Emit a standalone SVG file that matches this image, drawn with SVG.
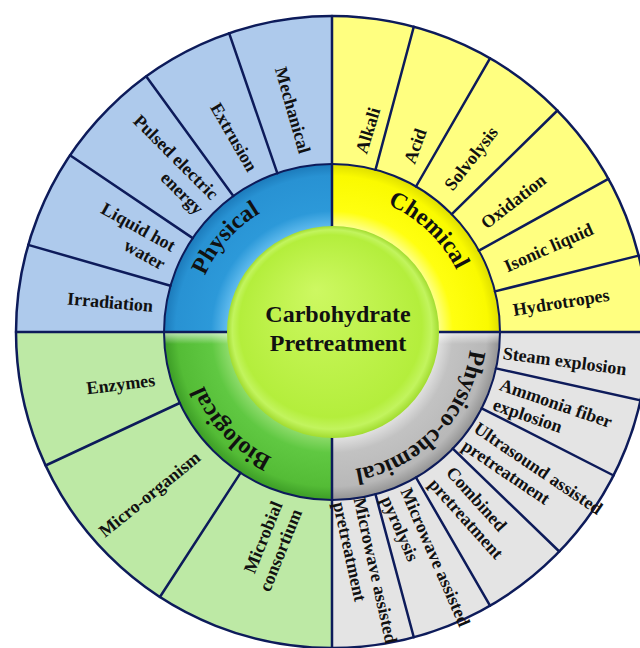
<svg xmlns="http://www.w3.org/2000/svg" width="640" height="648" viewBox="0 0 640 648">
  <defs>
    <style>
      .lbl { font-family: "Liberation Serif", "Times New Roman", serif; font-weight: bold; font-size: 18px; fill: #111; }
      .end { text-anchor: end; }
      .start { text-anchor: start; }
      .ring { font-family: "Liberation Serif", "Times New Roman", serif; font-weight: bold; font-size: 24px; fill: #111; }
      .core { font-family: "Liberation Serif", "Times New Roman", serif; font-weight: bold; font-size: 24px; fill: #111; text-anchor: middle; }
      .div { stroke: #0d1b5a; stroke-width: 2.5; fill: none; stroke-linecap: round; }
    </style>

    <!-- clockwise circle used as baseline for the category names -->
    <path id="arcText" d="M 471 332 A 139 139 0 1 1 193 332 A 139 139 0 1 1 471 332"/>

    <radialGradient id="gBlue" gradientUnits="userSpaceOnUse" cx="332" cy="332" r="168">
      <stop offset="0.62" stop-color="#62bcee"/>
      <stop offset="0.72" stop-color="#2c99d9"/>
      <stop offset="0.93" stop-color="#2892d3"/>
      <stop offset="1" stop-color="#1c7aba"/>
    </radialGradient>
    <radialGradient id="gYellow" gradientUnits="userSpaceOnUse" cx="332" cy="332" r="168">
      <stop offset="0.62" stop-color="#fdff9a"/>
      <stop offset="0.72" stop-color="#ffff10"/>
      <stop offset="0.93" stop-color="#fafa00"/>
      <stop offset="1" stop-color="#dede00"/>
    </radialGradient>
    <radialGradient id="gGreen" gradientUnits="userSpaceOnUse" cx="332" cy="332" r="168">
      <stop offset="0.62" stop-color="#8fdc6c"/>
      <stop offset="0.72" stop-color="#60c842"/>
      <stop offset="0.92" stop-color="#54bc36"/>
      <stop offset="1" stop-color="#3c9c26"/>
    </radialGradient>
    <radialGradient id="gGray" gradientUnits="userSpaceOnUse" cx="332" cy="332" r="168">
      <stop offset="0.62" stop-color="#e4e4e4"/>
      <stop offset="0.72" stop-color="#c2c2c2"/>
      <stop offset="0.92" stop-color="#b8b8b8"/>
      <stop offset="1" stop-color="#929292"/>
    </radialGradient>
    <radialGradient id="gCore" cx="0.5" cy="0.5" r="0.5" fx="0.42" fy="0.3">
      <stop offset="0" stop-color="#cdf862"/>
      <stop offset="0.86" stop-color="#b4ee3c"/>
      <stop offset="0.94" stop-color="#c2f45e"/>
      <stop offset="1" stop-color="#a2dc30"/>
    </radialGradient>
    <linearGradient id="gBevel" gradientUnits="userSpaceOnUse" x1="0" y1="333" x2="0" y2="344">
      <stop offset="0" stop-color="#ffffff" stop-opacity="0.6"/>
      <stop offset="1" stop-color="#ffffff" stop-opacity="0"/>
    </linearGradient>
    <clipPath id="lowerDisc">
      <path d="M 164 332 A 168 168 0 0 0 500 332 Z"/>
    </clipPath>
  </defs>

  <rect width="640" height="648" fill="#ffffff"/>

  <!-- outer ring: method bands -->
  <g id="outer-ring">
    <path d="M332 332 L16 332 A316 316 0 0 1 332 16 Z" fill="#aecaec"/>
    <path d="M332 332 L332 16 A316 316 0 0 1 648 332 Z" fill="#ffff80"/>
    <path d="M332 332 L648 332 A316 316 0 0 1 332 648 Z" fill="#e4e4e4"/>
    <path d="M332 332 L332 648 A316 316 0 0 1 16 332 Z" fill="#bde9a5"/>
  </g>

  <!-- middle ring: category bands -->
  <g id="category-ring">
    <path d="M332 332 L164 332 A168 168 0 0 1 332 164 Z" fill="url(#gBlue)"/>
    <path d="M332 332 L332 164 A168 168 0 0 1 500 332 Z" fill="url(#gYellow)"/>
    <path d="M332 332 L500 332 A168 168 0 0 1 332 500 Z" fill="url(#gGray)"/>
    <path d="M332 332 L332 500 A168 168 0 0 1 164 332 Z" fill="url(#gGreen)"/>
    <rect x="164" y="333" width="336" height="11" fill="url(#gBevel)" clip-path="url(#lowerDisc)"/>
  </g>

  <!-- dividers and outlines -->
  <g id="connectors" class="div">
    <circle cx="332" cy="332" r="316"/>
    <circle cx="332" cy="332" r="168" stroke-width="2"/>
    <line x1="16" y1="332" x2="648" y2="332"/>
    <line x1="332" y1="16" x2="332" y2="648"/>
    <!-- physical -->
    <line x1="170.5" y1="285.7" x2="28.2" y2="244.9"/>
    <line x1="192.7" y1="238.1" x2="70.0" y2="155.3"/>
    <line x1="233.3" y1="196.1" x2="146.3" y2="76.4"/>
    <line x1="277.3" y1="173.2" x2="229.1" y2="33.2"/>
    <!-- chemical -->
    <line x1="375.5" y1="169.7" x2="413.8" y2="26.8"/>
    <line x1="416.0" y1="186.5" x2="490.0" y2="58.3"/>
    <line x1="451.8" y1="214.2" x2="557.4" y2="110.5"/>
    <line x1="478.9" y1="250.6" x2="608.4" y2="178.8"/>
    <line x1="495.0" y1="291.4" x2="638.6" y2="255.6"/>
    <!-- physico-chemical -->
    <line x1="496.0" y1="368.4" x2="640.5" y2="400.4"/>
    <line x1="481.7" y1="408.3" x2="613.6" y2="475.5"/>
    <line x1="452.8" y1="448.7" x2="559.3" y2="551.5"/>
    <line x1="416.0" y1="477.5" x2="490.0" y2="605.7"/>
    <line x1="375.5" y1="494.3" x2="413.8" y2="637.2"/>
    <!-- biological -->
    <line x1="179.7" y1="403.0" x2="45.6" y2="465.5"/>
    <line x1="240.5" y1="472.9" x2="159.9" y2="597.0"/>
  </g>

  <!-- centre node -->
  <g id="carbohydrate-pretreatment">
    <circle cx="333" cy="332" r="106" fill="url(#gCore)"/>
    <text class="core" x="338" y="322">Carbohydrate</text>
    <text class="core" x="338" y="351">Pretreatment</text>
  </g>

  <!-- category nodes -->
  <g id="physical">
    <text class="ring" text-anchor="middle"><textPath href="#arcText" startOffset="61.5%">Physical</textPath></text>
  </g>
  <g id="chemical">
    <text class="ring" text-anchor="middle"><textPath href="#arcText" startOffset="87.1%">Chemical</textPath></text>
  </g>
  <g id="physico-chemical">
    <text class="ring" text-anchor="middle"><textPath href="#arcText" startOffset="12.2%">Physico-chemical</textPath></text>
  </g>
  <g id="biological">
    <text class="ring" text-anchor="middle"><textPath href="#arcText" startOffset="37.9%">Biological</textPath></text>
  </g>

  <!-- physical methods -->
  <g id="irradiation"><text class="lbl end" transform="translate(153 306) rotate(5)" y="6">Irradiation</text></g>
  <g id="liquid-hot-water"><text class="lbl end" transform="translate(169 256) rotate(29)"><tspan x="0" y="-4.5">Liquid hot</tspan><tspan x="0" y="16.5">water</tspan></text></g>
  <g id="pulsed-electric-energy"><text class="lbl end" transform="translate(208 204) rotate(45)"><tspan x="0" y="-4.5">Pulsed electric</tspan><tspan x="0" y="16.5">energy</tspan></text></g>
  <g id="extrusion"><text class="lbl end" transform="translate(253 170) rotate(60)" y="6">Extrusion</text></g>
  <g id="mechanical"><text class="lbl end" transform="translate(305 153) rotate(74)" y="6">Mechanical</text></g>

  <!-- chemical methods -->
  <g id="alkali"><text class="lbl start" transform="translate(361 153) rotate(-73)" y="6">Alkali</text></g>
  <g id="acid"><text class="lbl start" transform="translate(409 163) rotate(-70)" y="6">Acid</text></g>
  <g id="solvolysis"><text class="lbl start" transform="translate(448 188) rotate(-52)" y="6">Solvolysis</text></g>
  <g id="oxidation"><text class="lbl start" transform="translate(483 225) rotate(-38)" y="6">Oxidation</text></g>
  <g id="isonic-liquid"><text class="lbl start" transform="translate(505 267) rotate(-24)" y="6">Isonic liquid</text></g>
  <g id="hydrotropes"><text class="lbl start" transform="translate(513 310) rotate(-9)" y="6">Hydrotropes</text></g>

  <!-- biological methods -->
  <g id="enzymes"><text class="lbl end" transform="translate(155 380) rotate(-7)" y="6">Enzymes</text></g>
  <g id="micro-organism"><text class="lbl end" transform="translate(198 455) rotate(-39)" y="6">Micro-organism</text></g>
  <g id="microbial-consortium"><text class="lbl end" transform="translate(287 506) rotate(-68)"><tspan x="0" y="-4.5">Microbial</tspan><tspan x="0" y="16.5">consortium</tspan></text></g>

  <!-- physico-chemical methods -->
  <g id="steam-explosion"><text class="lbl start" transform="translate(503 353) rotate(7.5)" y="6">Steam explosion</text></g>
  <g id="ammonia-fiber-explosion"><text class="lbl start" transform="translate(497 394) rotate(19)"><tspan x="0" y="-4.5">Ammonia fiber</tspan><tspan x="0" y="16.5">explosion</tspan></text></g>
  <g id="ultrasound-assisted-pretreatment"><text class="lbl start" transform="translate(470 435) rotate(34)"><tspan x="0" y="-4.5">Ultrasound assisted</tspan><tspan x="0" y="16.5">pretreatment</tspan></text></g>
  <g id="combined-pretreatment"><text class="lbl start" transform="translate(440 474) rotate(48)"><tspan x="3" y="-4.5">Combined</tspan><tspan x="0" y="16.5">pretreatment</tspan></text></g>
  <g id="microwave-assisted-pyrolysis"><text class="lbl start" transform="translate(396 493) rotate(66.5)"><tspan x="0" y="-4.5">Microwave assisted</tspan><tspan x="0" y="16.5">pyrolysis</tspan></text></g>
  <g id="microwave-assisted-pretreatment"><text class="lbl start" transform="translate(349 500) rotate(77.5)"><tspan x="0" y="-4.5">Microwave assisted</tspan><tspan x="0" y="16.5">pretreatment</tspan></text></g>
</svg>
